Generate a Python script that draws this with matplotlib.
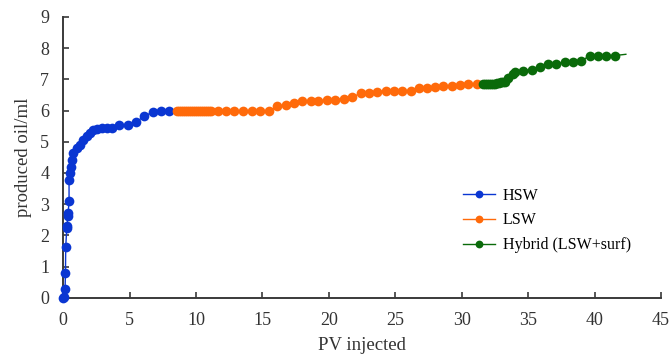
import matplotlib
matplotlib.use('Agg')
import matplotlib.pyplot as plt

plt.rcParams.update({
    'font.family': 'Liberation Serif',
    'font.size': 13,
    'axes.edgecolor': '#3a3a3a',
    'axes.linewidth': 1.4,
    'xtick.color': '#3a3a3a',
    'ytick.color': '#3a3a3a',
    'xtick.labelcolor': '#333333',
    'ytick.labelcolor': '#333333',
})

# ── data ──────────────────────────────────────────────────────
hsw_x = [0.0, 0.1, 0.15, 0.18, 0.2, 0.28, 0.3, 0.35, 0.38, 0.45, 0.45, 0.53, 0.6,
         0.65, 0.78, 1.03, 1.28, 1.53, 1.78, 2.03, 2.28, 2.53, 2.9, 3.28, 3.66,
         4.24, 4.87, 5.49, 6.12, 6.75, 7.37, 7.97]
hsw_y = [0.0, 0.02, 0.29, 0.81, 1.63, 2.25, 2.29, 2.62, 2.72, 3.09, 3.78, 4.0, 4.2,
         4.42, 4.64, 4.8, 4.9, 5.06, 5.17, 5.28, 5.36, 5.41, 5.44, 5.44, 5.44,
         5.54, 5.54, 5.62, 5.83, 5.94, 5.98, 5.98]

lsw_x = [8.55, 8.7, 8.85, 9.0, 9.15, 9.3, 9.45, 9.6, 9.75, 9.9, 10.05, 10.2, 10.35,
         10.5, 10.65, 10.8, 10.95, 11.1, 11.65, 12.25, 12.9, 13.55, 14.2, 14.82,
         15.5, 16.13, 16.75, 17.38, 18.0, 18.64, 19.2, 19.89, 20.5, 21.14, 21.77,
         22.4, 23.0, 23.65, 24.28, 24.9, 25.53, 26.16, 26.79, 27.4, 28.0, 28.6,
         29.25, 29.87, 30.5, 31.13]
lsw_y = [6.0, 6.0, 6.0, 6.0, 6.0, 6.0, 6.0, 6.0, 6.0, 6.0, 6.0, 6.0, 6.0,
         6.0, 6.0, 6.0, 6.0, 6.0, 5.99, 5.99, 5.98, 5.98, 5.98, 5.97,
         5.97, 6.13, 6.19, 6.24, 6.29, 6.29, 6.29, 6.35, 6.35, 6.38, 6.42,
         6.56, 6.56, 6.6, 6.64, 6.64, 6.64, 6.64, 6.72, 6.72, 6.74, 6.77,
         6.8, 6.82, 6.85, 6.85]

hyb_x = [31.6, 31.75, 31.9, 32.05, 32.2, 32.35, 32.5, 32.65, 32.8, 32.95, 33.1,
         33.3, 33.5, 33.85, 34.0, 34.64, 35.26, 35.9, 36.47, 37.1, 37.77, 38.4,
         39.0, 39.65, 40.28, 40.9, 41.54, 42.36]
hyb_y = [6.85, 6.85, 6.85, 6.85, 6.85, 6.85, 6.86, 6.87, 6.88, 6.9, 6.9,
         6.92, 7.05, 7.18, 7.23, 7.28, 7.31, 7.38, 7.5, 7.5, 7.55, 7.55,
         7.58, 7.76, 7.76, 7.76, 7.76, 7.8]

fig = plt.figure(figsize=(6.71, 3.58), dpi=100)
ax = fig.add_axes([0.094, 0.168, 0.891, 0.785])

style = dict(marker='o', markersize=7, linewidth=1.0, markeredgewidth=0,
             clip_on=False, zorder=3)
ax.plot(hsw_x, hsw_y, color='#0a36d2', label='HSW', **style)
ax.plot(lsw_x, lsw_y, color='#ff6a0a', label='LSW', **style)
ax.plot(hyb_x, hyb_y, color='#0a6a0a', label='Hybrid (LSW+surf)',
        markevery=slice(0, len(hyb_x) - 1), **style)

ax.set_xlim(0, 45)
ax.set_ylim(0, 9)
ax.set_xticks(range(0, 46, 5))
ax.set_yticks(range(0, 10))
ax.tick_params(direction='in', length=4, width=1.2, labelsize=13)
ax.tick_params(axis='x', pad=10)
ax.tick_params(axis='y', pad=10)
ax.spines['top'].set_visible(False)
ax.spines['right'].set_visible(False)

ax.set_xlabel('PV injected', fontsize=13.5, color='#333333', labelpad=6)
ax.set_ylabel('produced oil/ml', fontsize=13.5, color='#333333', labelpad=6)

ax.legend(loc='upper left', bbox_to_anchor=(0.658, 0.415), frameon=False,
          fontsize=11.5, handlelength=2.0, labelspacing=0.55, markerscale=0.8,
          borderaxespad=0, handletextpad=0.5)

fig.savefig('out.png', dpi=100)
